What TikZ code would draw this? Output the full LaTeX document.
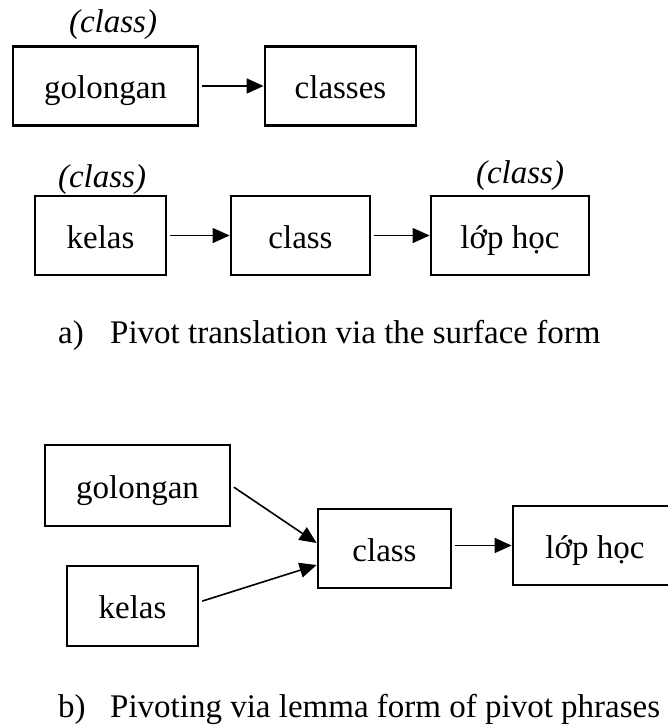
\documentclass[tikz,border=0pt]{standalone}
\usepackage{fontspec}
\setmainfont{Liberation Serif}
\usetikzlibrary{arrows.meta}
\begin{document}
\begin{tikzpicture}[x=1pt,y=-1pt,
  word/.style={font=\fontsize{33}{40}\selectfont},
  box/.style={word, draw=black, line width=2.8pt, inner sep=0pt,
    minimum height=79pt, text height=25pt, text depth=0pt},
  gloss/.style={word, anchor=base, inner sep=0pt, font=\fontsize{33}{40}\selectfont\itshape},
  capt/.style={word, anchor=base west, inner sep=0pt},
  link/.style={line width=1.6pt, -{Triangle[length=17pt,width=15pt]}, shorten <=3pt}]
\useasboundingbox (0,0) rectangle (668,726);

% (a) surface-form pivoting
\node[box, minimum width=185pt] (golA) at (105.5,86) {golongan};
\node[box, minimum width=151pt] (clsA) at (340.5,86) {classes};
\node[gloss] (glA) at (113,32) {(class)};
\draw[link] (golA) -- (clsA);

\node[box, minimum width=131pt] (kelA) at (100.5,235.5) {kelas};
\node[box, minimum width=139pt] (classA) at (300.5,235.5) {class};
\node[box, minimum width=158pt] (lopA) at (510,235.5) {lớp học};
\node[gloss] (glB) at (102,187) {(class)};
\node[gloss] (glC) at (520,183) {(class)};
\draw[link] (kelA) -- (classA);
\draw[link] (classA) -- (lopA);

\node[capt] (captA) at (58,343) {\makebox[52pt][l]{a)}Pivot translation via the surface form};

% (b) lemma-form pivoting
\node[box, minimum width=185pt, minimum height=81pt] (golB) at (137.5,485.5) {golongan};
\node[box, minimum width=131pt, minimum height=80pt] (kelB) at (132.5,606) {kelas};
\node[box, minimum width=133pt] (classB) at (384.5,548.5) {class};
\node[box, minimum width=164pt] (lopB) at (595,545.5) {lớp học};
\draw[link] (golB.east) -- ([yshift=5.5pt]classB.west);
\draw[link] ([yshift=4pt]kelB.east) -- ([yshift=-16.5pt]classB.west);
\draw[link] (classB.east |- lopB.west) -- (lopB.west);

\node[capt] (captB) at (58,717) {\makebox[52pt][l]{b)}Pivoting via lemma form of pivot phrases};
\end{tikzpicture}
\end{document}
